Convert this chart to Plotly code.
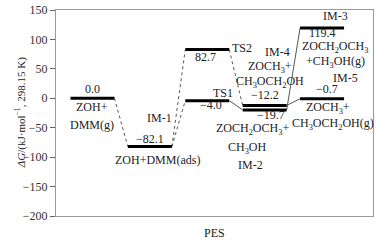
import plotly.graph_objects as go

# ---- data ----
level_names = ["ZOH+DMM(g)", "IM-1", "TS1", "TS2", "IM-2", "IM-4", "IM-3", "IM-5"]
level_stage = [0, 1, 2, 2, 3, 3, 4, 4]
level_energy = [0.0, -82.1, -4.0, 82.7, -19.7, -12.2, 119.4, -0.7]
# connections (from level index, to level index, dash)
conn_from = [0, 1, 1, 2, 3, 4, 5]
conn_to = [1, 2, 3, 4, 5, 6, 7]
conn_dash = ["dot", "dot", "dot", "solid", "dot", "solid", "solid"]
y_ticks = [150, 100, 50, 0, -50, -100, -150, -200]

HALF = 0.383
FONT = "Liberation Serif"

fig = go.Figure()

# connectors
for a, b, d in zip(conn_from, conn_to, conn_dash):
    fig.add_trace(go.Scatter(
        x=[level_stage[a] + HALF, level_stage[b] - HALF],
        y=[level_energy[a], level_energy[b]],
        mode="lines", line=dict(color="#444", width=0.9, dash=d),
        hoverinfo="skip", showlegend=False))

# levels
for s, e in zip(level_stage, level_energy):
    fig.add_trace(go.Scatter(
        x=[s - HALF, s + HALF], y=[e, e], mode="lines",
        line=dict(color="black", width=3), hoverinfo="skip", showlegend=False))

# labels: (text, x, y)
labels = [
    ("0.0", 0, 15.8),
    ("ZOH+", 0, -14.9),
    ("DMM(g)", 0, -45.4),
    ("IM-1", 1.16, -32.8),
    ("−82.1", 1.01, -69.8),
    ("ZOH+DMM(ads)", 1.13, -104.9),
    ("TS2", 2.61, 85.5),
    ("82.7", 1.97, 70.2),
    ("TS1", 2.27, 9.0),
    ("−4.0", 2.07, -11.4),
    ("IM-4", 3.22, 78.5),
    ("ZOCH<sub>3</sub>+", 3.09, 53.0),
    ("CH<sub>3</sub>OCH<sub>2</sub>OH", 3.09, 27.7),
    ("−12.2", 3.01, 5.6),
    ("−19.7", 3.11, -28.0),
    ("ZOCH<sub>2</sub>OCH<sub>3</sub>+", 2.78, -52.5),
    ("CH<sub>3</sub>OH", 2.70, -84.4),
    ("IM-2", 2.75, -113.3),
    ("IM-3", 4.23, 139.8),
    ("119.4", 4.0, 110.9),
    ("ZOCH<sub>2</sub>OCH<sub>3</sub>", 4.23, 87.2),
    ("+CH<sub>3</sub>OH(g)", 4.23, 61.7),
    ("IM-5", 4.40, 34.5),
    ("−0.7", 4.09, 15.8),
    ("ZOCH<sub>3</sub>+", 4.10, -16.6),
    ("CH<sub>3</sub>OCH<sub>2</sub>OH(g)", 4.19, -43.7),
]
for t, x, y in labels:
    fig.add_annotation(text=t, x=x, y=y, xref="x", yref="y", showarrow=False,
                       font=dict(family=FONT, size=12, color="#222"),
                       xanchor="center", yanchor="middle")

# axis titles
fig.add_annotation(text="<i>ΔG</i>/(kJ·mol<sup>−1</sup>, 298.15 K)",
                   xref="paper", yref="paper", x=-0.113, y=0.5,
                   xanchor="center", yanchor="middle", textangle=-90,
                   showarrow=False, font=dict(family=FONT, size=11, color="#222"))
fig.add_annotation(text="PES", xref="paper", yref="paper", x=0.5, y=-0.04,
                   xanchor="center", yanchor="top", showarrow=False,
                   font=dict(family=FONT, size=12, color="#222"))

fig.update_layout(
    width=380, height=240,
    margin=dict(l=56, r=7, t=10, b=24, autoexpand=False),
    paper_bgcolor="white", plot_bgcolor="white",
    font=dict(family=FONT, size=12, color="#222"),
    showlegend=False,
)
fig.update_xaxes(range=[-0.635, 4.887], showticklabels=False, ticks="",
                 showgrid=False, zeroline=False, showline=True, mirror=True,
                 linecolor="#999", linewidth=1, automargin=False)
fig.update_yaxes(range=[-200, 150], tickvals=y_ticks,
                 ticktext=[str(v).replace("-", "−") for v in y_ticks],
                 ticks="outside", ticklen=5, tickcolor="#666",
                 showgrid=False, zeroline=False, showline=True, mirror=True,
                 linecolor="#999", linewidth=1, automargin=False,
                 tickfont=dict(family=FONT, size=12, color="#333"))

fig.write_html("out.html", config={"displayModeBar": False},
               post_script="document.body.style.margin='0';document.body.style.overflow='hidden';")
